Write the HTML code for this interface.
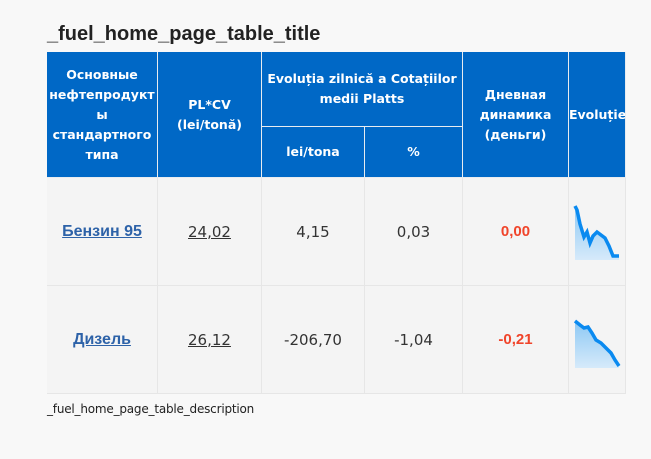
<!DOCTYPE html>
<html><head><meta charset="utf-8"><style>
body{margin:0;width:651px;height:459px;background:#f8f8f8;font-family:"Liberation Sans","DejaVu Sans",sans-serif;position:relative;overflow:hidden}
.a{position:absolute;box-sizing:border-box;display:flex;align-items:center;justify-content:center;text-align:center}
.h{background:#0068c6;color:#fff;font-weight:bold;line-height:20px;border-right:1px solid #e8ecf0;border-bottom:1px solid #e8ecf0;font-family:"DejaVu Sans","Liberation Sans",sans-serif;font-size:12.5px}
.c{background:#f4f4f4;border-right:1px solid #e6e6e6;border-bottom:1px solid #e6e6e6;color:#333;font-family:"DejaVu Sans","Liberation Sans",sans-serif;font-size:15px}
.l{color:#2d62a8;font-weight:bold;text-decoration:underline;font-family:"Liberation Sans",sans-serif;font-size:16px}
.u{text-decoration:underline}
.r{color:#f0442a;font-weight:bold;font-family:"Liberation Sans",sans-serif;font-size:15px}
</style></head><body>
<div style="position:absolute;left:47px;top:23px;font-size:20px;font-weight:bold;color:#222">_fuel_home_page_table_title</div>
<div style="position:absolute;left:47px;top:52px;width:579px;height:342px;border-left:1px solid #e6e6e6"></div>
<div class="a h" style="left:47px;top:52px;width:111px;height:126px">Основные<br>нефтепродукт<br>ы<br>стандартного<br>типа</div>
<div class="a h" style="left:158px;top:52px;width:104px;height:126px">PL*CV<br>(lei/tonă)</div>
<div class="a h" style="left:262px;top:52px;width:201px;height:75px">Evoluția zilnică a Cotațiilor<br>medii Platts</div>
<div class="a h" style="left:262px;top:127px;width:103px;height:51px">lei/tona</div>
<div class="a h" style="left:365px;top:127px;width:98px;height:51px">%</div>
<div class="a h" style="left:463px;top:52px;width:106px;height:126px">Дневная<br>динамика<br>(деньги)</div>
<div class="a h" style="left:569px;top:52px;width:57px;height:126px;justify-content:flex-start;overflow:hidden;white-space:nowrap">Evoluție</div>

<div class="a c" style="left:47px;top:178px;width:111px;height:108px"><span class="l">Бензин 95</span></div>
<div class="a c" style="left:158px;top:178px;width:104px;height:108px"><span class="u">24,02</span></div>
<div class="a c" style="left:262px;top:178px;width:103px;height:108px">4,15</div>
<div class="a c" style="left:365px;top:178px;width:98px;height:108px">0,03</div>
<div class="a c" style="left:463px;top:178px;width:106px;height:108px"><span class="r">0,00</span></div>
<div class="a c" style="left:569px;top:178px;width:57px;height:108px"></div>

<div class="a c" style="left:47px;top:286px;width:111px;height:108px"><span class="l">Дизель</span></div>
<div class="a c" style="left:158px;top:286px;width:104px;height:108px"><span class="u">26,12</span></div>
<div class="a c" style="left:262px;top:286px;width:103px;height:108px">-206,70</div>
<div class="a c" style="left:365px;top:286px;width:98px;height:108px">-1,04</div>
<div class="a c" style="left:463px;top:286px;width:106px;height:108px"><span class="r">-0,21</span></div>
<div class="a c" style="left:569px;top:286px;width:57px;height:108px"></div>

<svg style="position:absolute;left:0;top:0" width="651" height="459">
<defs><linearGradient id="g" x1="0" y1="0" x2="0" y2="1"><stop offset="0" stop-color="#8cc8f4"/><stop offset="1" stop-color="#d6eafa"/></linearGradient></defs>
<path d="M575,206 L577,210 L580,224 L584,237 L587,232 L590,243 L593,236 L597,232 L601,235 L605,238 L609,246 L613,256 L619,256 L619,260 L575,260 Z" fill="url(#g)"/>
<path d="M575,206 L577,210 L580,224 L584,237 L587,232 L590,243 L593,236 L597,232 L601,235 L605,238 L609,246 L613,256 L619,256" fill="none" stroke="#0a8af0" stroke-width="3.5"/>
<path d="M575,321 L580,325 L584,328 L588,327 L592,333 L596,340 L601,343 L606,348 L611,353 L615,360 L619,366 L619,368 L575,368 Z" fill="url(#g)"/>
<path d="M575,321 L580,325 L584,328 L588,327 L592,333 L596,340 L601,343 L606,348 L611,353 L615,360 L619,366" fill="none" stroke="#0a8af0" stroke-width="3.5"/>
</svg>
<div style="position:absolute;left:47px;top:402px;font-size:12px;color:#222;font-family:'DejaVu Sans',sans-serif;letter-spacing:-0.2px">_fuel_home_page_table_description</div>
</body></html>
